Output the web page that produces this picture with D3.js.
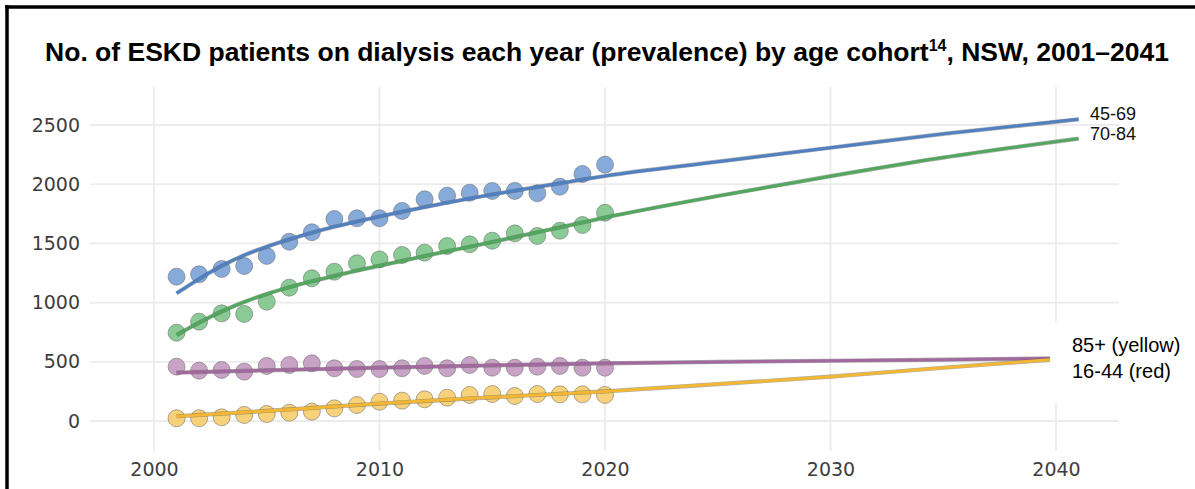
<!DOCTYPE html>
<html>
<head>
<meta charset="utf-8">
<script src="https://cdn.jsdelivr.net/npm/d3@7"></script>
<style>
  html, body { margin: 0; padding: 0; background: #fff; }
  svg { display: block; }
</style>
</head>
<body>
<svg id="chart" width="1195" height="489"></svg>
<script>
// Observed yearly counts, 2001–2020
const years = d3.range(2001, 2021);
const obs4569 = [1219, 1239, 1284, 1309, 1394, 1514, 1594, 1706, 1712, 1712, 1774, 1872, 1903, 1928, 1943, 1943, 1923, 1979, 2086, 2165];
const obs7084 = [746, 839, 909, 904, 1008, 1126, 1205, 1261, 1332, 1365, 1402, 1422, 1478, 1492, 1523, 1585, 1563, 1607, 1655, 1759];
const obs85p  = [459, 425, 431, 417, 465, 473, 487, 445, 439, 439, 445, 465, 445, 473, 450, 450, 459, 465, 450, 450];
const obs1644 = [23, 23, 31, 51, 59, 70, 79, 107, 135, 163, 172, 183, 197, 220, 228, 211, 228, 225, 225, 220];

// Fitted trend and projection to 2041
const fitYearsA = [2001, 2002, 2003, 2004, 2005, 2006, 2007, 2008, 2009, 2010, 2011, 2012, 2013, 2014, 2015, 2016, 2017, 2018, 2019, 2020, 2025, 2030, 2035, 2041];
const fit4569 = [1078, 1200, 1310, 1400, 1472, 1534, 1590, 1640, 1685, 1727, 1767, 1806, 1843, 1879, 1913, 1945, 1977, 2008, 2039, 2069, 2190, 2308, 2425, 2548];
const fit7084 = [726, 830, 925, 1005, 1073, 1130, 1180, 1226, 1270, 1311, 1352, 1393, 1433, 1472, 1512, 1553, 1594, 1635, 1677, 1718, 1900, 2068, 2225, 2385];
const fitYearsB = [2001, 2005, 2010, 2015, 2020, 2025, 2030, 2035, 2041];
const fit85p  = [408, 428, 450, 470, 487, 499, 509, 518, 532];
const fit1644 = [40, 85, 147, 200, 250, 312, 374, 450, 535];

const yTicks = [0, 500, 1000, 1500, 2000, 2500];
const xTicks = [2000, 2010, 2020, 2030, 2040];

const series = [
  { name: "85+",   obs: obs85p,  fx: fitYearsB, fit: fit85p,  dot: "#c39bc1", line: "#a2699e" },
  { name: "16-44", obs: obs1644, fx: fitYearsB, fit: fit1644, dot: "#f7ce6f", line: "#f3b733" },
  { name: "70-84", obs: obs7084, fx: fitYearsA, fit: fit7084, dot: "#80c68c", line: "#4fa85c" },
  { name: "45-69", obs: obs4569, fx: fitYearsA, fit: fit4569, dot: "#7ca4d7", line: "#4f80c1" }
];

const svg = d3.select("#chart");
const x = d3.scaleLinear().domain([2000, 2040]).range([154, 1056]);
const y = d3.scaleLinear().domain([0, 2500]).range([421, 125]);
const plot = { left: 90, right: 1119, top: 87, bottom: 451 };

// Grid
const grid = svg.append("g");
grid.selectAll("line.h").data(yTicks).join("line")
  .attr("x1", plot.left).attr("x2", plot.right)
  .attr("y1", d => y(d)).attr("y2", d => y(d))
  .attr("stroke", "#ececec").attr("stroke-width", 1.8);
grid.selectAll("line.v").data(xTicks).join("line")
  .attr("x1", d => x(d)).attr("x2", d => x(d))
  .attr("y1", plot.top).attr("y2", plot.bottom)
  .attr("stroke", "#ececec").attr("stroke-width", 1.8);

// Axes (labels only)
const yAxis = svg.append("g").attr("transform", `translate(${plot.left},0)`)
  .call(d3.axisLeft(y).tickValues(yTicks).tickSize(0).tickPadding(10).tickFormat(d3.format("d")));
const xAxis = svg.append("g").attr("transform", `translate(0,${plot.bottom})`)
  .call(d3.axisBottom(x).tickValues(xTicks).tickSize(0).tickPadding(12).tickFormat(d3.format("d")));
[yAxis, xAxis].forEach(a => {
  a.select(".domain").remove();
  a.selectAll("text").attr("font-family", "DejaVu Sans").attr("font-size", 19).attr("fill", "#3d3d3d");
});

// Observed points
series.forEach(s => {
  svg.append("g").selectAll("circle").data(years.map((yr, i) => [yr, s.obs[i]])).join("circle")
    .attr("cx", d => x(d[0])).attr("cy", d => y(d[1])).attr("r", 8.5)
    .attr("fill", s.dot).attr("fill-opacity", 0.92)
    .attr("stroke", "#6a6a6a").attr("stroke-opacity", 0.55).attr("stroke-width", 1);
});

// Trend lines
const lineGen = d3.line().x(d => x(d[0])).y(d => y(d[1])).curve(d3.curveMonotoneX);
series.forEach(s => {
  const pts = s.fx.map((yr, i) => [yr, s.fit[i]]);
  svg.append("path").attr("d", lineGen(pts)).attr("fill", "none")
    .attr("stroke", "#4a4a4a").attr("stroke-opacity", 0.45).attr("stroke-width", 4.2);
  svg.append("path").attr("d", lineGen(pts)).attr("fill", "none")
    .attr("stroke", s.line).attr("stroke-width", 3);
});

// Labels for upper series
svg.append("text").attr("x", 1090).attr("y", 120).text("45-69")
  .attr("font-family", "Liberation Sans, Arial").attr("font-size", 18).attr("fill", "#111");
svg.append("text").attr("x", 1090).attr("y", 140).text("70-84")
  .attr("font-family", "Liberation Sans, Arial").attr("font-size", 18).attr("fill", "#111");

// Label panel for lower series
svg.append("rect").attr("x", 1050).attr("y", 322).attr("width", 145).attr("height", 81).attr("fill", "#fff");
svg.append("text").attr("x", 1072).attr("y", 352).text("85+ (yellow)")
  .attr("font-family", "Liberation Sans, Arial").attr("font-size", 20).attr("fill", "#000");
svg.append("text").attr("x", 1072).attr("y", 378).text("16-44 (red)")
  .attr("font-family", "Liberation Sans, Arial").attr("font-size", 20).attr("fill", "#000");

// Title
const title = svg.append("text").attr("x", 607).attr("y", 61).attr("text-anchor", "middle")
  .attr("font-family", "Liberation Sans, Arial").attr("font-weight", "bold").attr("font-size", 26.5).attr("fill", "#000");
title.append("tspan").text("No. of ESKD patients on dialysis each year (prevalence) by age cohort");
title.append("tspan").text("14").attr("font-size", 16).attr("dy", -10);
title.append("tspan").text(", NSW, 2001\u20132041").attr("dy", 10);

// Frame
svg.append("line").attr("x1", 5).attr("x2", 1195).attr("y1", 7).attr("y2", 7).attr("stroke", "#000").attr("stroke-width", 3.5);
svg.append("line").attr("x1", 7).attr("x2", 7).attr("y1", 5).attr("y2", 489).attr("stroke", "#000").attr("stroke-width", 3.5);
</script>
</body>
</html>
